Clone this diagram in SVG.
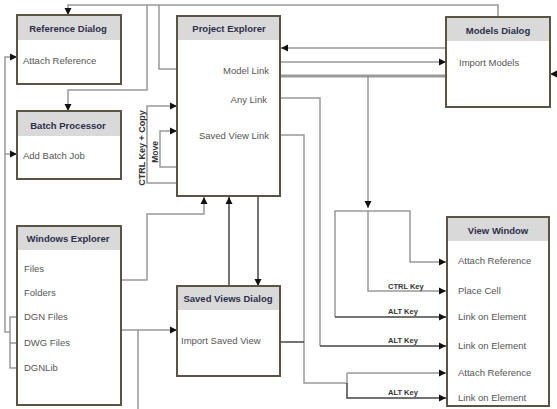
<svg xmlns="http://www.w3.org/2000/svg" width="557" height="409" viewBox="0 0 557 409">
<style>
.box{fill:#fff;stroke:#5b5344;stroke-width:2}
.hd{fill:#d9d9d9}
.ht{font-family:"Liberation Sans",Arial,sans-serif;font-size:9.5px;font-weight:bold;fill:#2e2e4a;text-anchor:middle}
.bt{font-family:"Liberation Sans",Arial,sans-serif;font-size:9.5px;fill:#555}
.lb{font-family:"Liberation Sans",Arial,sans-serif;font-size:7.5px;font-weight:bold;fill:#333}
.ln{fill:none;stroke:#999;stroke-width:1.5}
.dk{fill:none;stroke:#444;stroke-width:1.5}
.th{fill:none;stroke:#999;stroke-width:3}
</style>
<defs>
<marker id="ah" markerUnits="userSpaceOnUse" markerWidth="8" markerHeight="8" refX="7" refY="4" orient="auto">
<path d="M0,0.5 L7,4 L0,7.5 Z" fill="#111"/>
</marker>
</defs>
<g id="connectors">
<path class="ln" d="M498,16 V5 H68 V15" marker-end="url(#ah)"/>
<path class="ln" d="M147,5 V90 H68 V111" marker-end="url(#ah)"/>
<path class="ln" d="M159,5 V69 H177"/>
<path class="ln" d="M10,332 H5 V57 H17" marker-end="url(#ah)"/>
<path class="ln" d="M5,154 H17" marker-end="url(#ah)"/>
<path class="ln" d="M17,317 H10 V368 H17 M10,343 H17"/>
<path class="ln" d="M87,268 H107 V292"/>
<path class="dk" d="M87,292 H107"/>
<path class="ln" d="M107,280 H147 V214 H204 V197" marker-end="url(#ah)"/>
<path class="ln" d="M88,317 H107 V368 H88"/>
<path class="dk" d="M88,343 H107"/>
<path class="ln" d="M107,330 H177" marker-end="url(#ah)"/>
<path class="ln" d="M138,330 V409"/>
<path class="dk" d="M229,286 V197" marker-end="url(#ah)"/>
<path class="dk" d="M258,196 V286" marker-end="url(#ah)"/>
<path class="ln" d="M446,48 H281" marker-end="url(#ah)"/>
<path class="ln" d="M281,62 H446" marker-end="url(#ah)"/>
<path class="th" d="M281,76 H446"/>
<path class="ln" d="M557,74 H550" marker-end="url(#ah)"/>
<path class="ln" d="M368,77 V208" marker-end="url(#ah)"/>
<path class="ln" d="M368,211 V291 H446" marker-end="url(#ah)"/>
<path class="ln" d="M335,317 V211 H410 V262 H446" marker-end="url(#ah)"/>
<path class="dk" d="M335,317 H446" marker-end="url(#ah)"/>
<path class="ln" d="M281,98 H320 V346"/>
<path class="dk" d="M320,346 H446" marker-end="url(#ah)"/>
<path class="ln" d="M281,135 H304 V383 H347 V373"/>
<path class="dk" d="M280,342 H304"/>
<path class="ln" d="M347,373 H446" marker-end="url(#ah)"/>
<path class="dk" d="M347,383 V398 H446" marker-end="url(#ah)"/>
<path class="ln" d="M177,183 H147 V106 H177" marker-end="url(#ah)"/>
<path class="ln" d="M177,167 H160 V131 H177" marker-end="url(#ah)"/>
<text class="lb" style="font-size:9px" transform="translate(145,148) rotate(-90)" text-anchor="middle">CTRL Key + Copy</text>
<text class="lb" style="font-size:8.5px" transform="translate(158,152) rotate(-90)" text-anchor="middle">Move</text>
<text class="lb" x="388" y="289">CTRL Key</text>
<text class="lb" x="388" y="314">ALT Key</text>
<text class="lb" x="388" y="343">ALT Key</text>
<text class="lb" x="388" y="395">ALT Key</text>
</g>
<g id="reference-dialog">
<rect class="box" x="17" y="15" width="104" height="69"/>
<rect class="hd" x="18" y="16" width="102" height="24"/>
<text class="ht" x="68" y="32">Reference Dialog</text>
<text class="bt" x="23" y="64">Attach Reference</text>
</g>
<g id="batch-processor">
<rect class="box" x="17" y="111" width="104" height="68"/>
<rect class="hd" x="18" y="112" width="102" height="24"/>
<text class="ht" x="68" y="129">Batch Processor</text>
<text class="bt" x="23" y="159">Add Batch Job</text>
</g>
<g id="project-explorer">
<rect class="box" x="177" y="16" width="103" height="180"/>
<rect class="hd" x="178" y="17" width="101" height="23"/>
<text class="ht" x="229" y="32">Project Explorer</text>
<text class="bt" x="269" y="74" text-anchor="end">Model Link</text>
<text class="bt" x="267" y="103" text-anchor="end">Any Link</text>
<text class="bt" x="269" y="139" text-anchor="end">Saved View Link</text>
</g>
<g id="models-dialog">
<rect class="box" x="446" y="17" width="104" height="90"/>
<rect class="hd" x="447" y="18" width="102" height="23"/>
<text class="ht" x="498" y="34">Models Dialog</text>
<text class="bt" x="459" y="66">Import Models</text>
</g>
<g id="windows-explorer">
<rect class="box" x="17" y="226" width="104" height="179"/>
<rect class="hd" x="18" y="227" width="102" height="23"/>
<text class="ht" x="68" y="242">Windows Explorer</text>
<text class="bt" x="24" y="272">Files</text>
<text class="bt" x="24" y="296">Folders</text>
<text class="bt" x="24" y="320">DGN Files</text>
<text class="bt" x="24" y="346">DWG Files</text>
<text class="bt" x="24" y="371">DGNLib</text>
</g>
<g id="saved-views-dialog">
<rect class="box" x="177" y="286" width="103" height="90"/>
<rect class="hd" x="178" y="287" width="101" height="23"/>
<text class="ht" x="228" y="302">Saved Views Dialog</text>
<text class="bt" x="181" y="344">Import Saved View</text>
</g>
<g id="view-window">
<rect class="box" x="447" y="217" width="102" height="189"/>
<rect class="hd" x="448" y="218" width="100" height="23"/>
<text class="ht" x="498" y="234">View Window</text>
<text class="bt" x="458" y="264">Attach Reference</text>
<text class="bt" x="458" y="294">Place Cell</text>
<text class="bt" x="458" y="320">Link on Element</text>
<text class="bt" x="458" y="349">Link on Element</text>
<text class="bt" x="458" y="376">Attach Reference</text>
<text class="bt" x="458" y="401">Link on Element</text>
</g>
</svg>
